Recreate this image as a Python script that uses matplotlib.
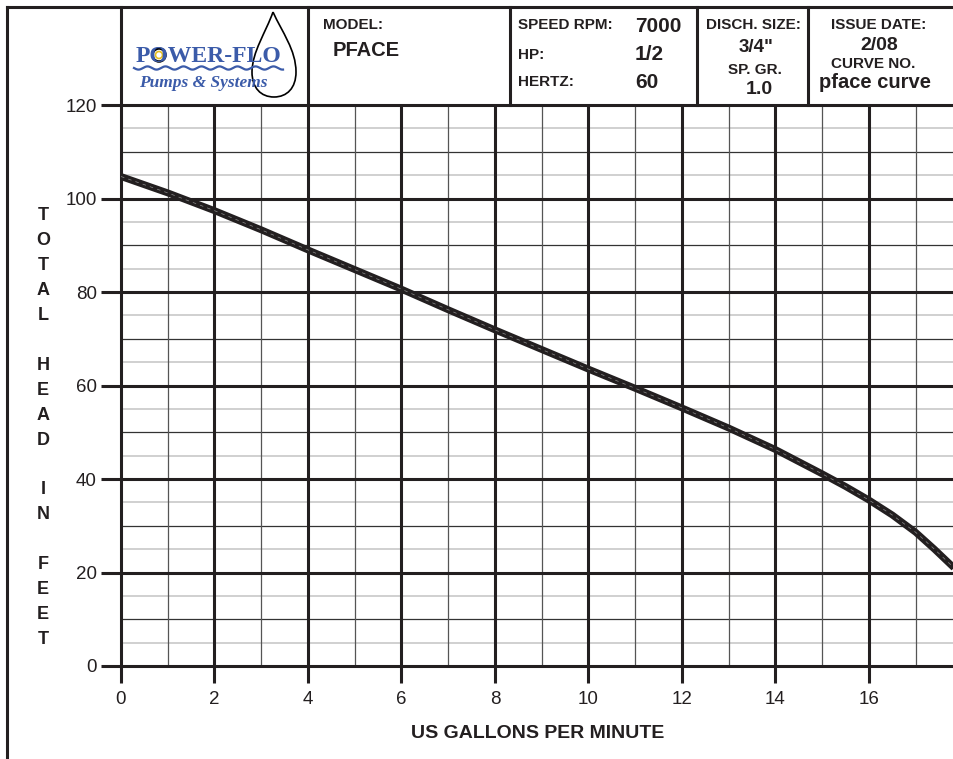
import numpy as np
import matplotlib.pyplot as plt
import matplotlib.patches as mpatches
from matplotlib.path import Path

plt.rcParams['font.family'] = ['Liberation Sans', 'DejaVu Sans']

# pump curve
gpm = [0, 1, 2, 3, 4, 5, 6, 7, 8, 9, 10, 11, 12, 13, 14, 15, 15.5, 16,
       16.5, 17, 17.4, 17.82]
head = [104.7, 101.2, 97.4, 93.3, 89.0, 84.8, 80.6, 76.2, 71.9, 67.7, 63.5,
        59.4, 55.2, 50.9, 46.3, 41.1, 38.4, 35.5, 32.3, 28.6, 25.0, 21.0]

x_ticks = [0, 2, 4, 6, 8, 10, 12, 14, 16]
y_ticks = [0, 20, 40, 60, 80, 100, 120]
x_minor = [1, 3, 5, 7, 9, 11, 13, 15, 17]
y_tens = [10, 30, 50, 70, 90, 110]
y_fives = [5, 15, 25, 35, 45, 55, 65, 75, 85, 95, 105, 115]

ylabel_letters = "TOTAL HEAD IN FEET"

# header fields: (text, x px, y px, align, size)
header = [
    ("MODEL:", 323, 25, 'left', 11),
    ("PFACE", 333, 50, 'left', 14.5),
    ("SPEED RPM:", 518, 25, 'left', 11),
    ("7000", 635, 26, 'left', 15),
    ("HP:", 518, 55, 'left', 11),
    ("1/2", 635, 55, 'left', 15),
    ("HERTZ:", 518, 82, 'left', 11),
    ("60", 635, 82, 'left', 15),
    ("DISCH. SIZE:", 753, 25, 'center', 11),
    ('3/4"', 756, 48, 'center', 13.5),
    ("SP. GR.", 755, 70, 'center', 11),
    ("1.0", 759, 90, 'center', 14),
    ("ISSUE DATE:", 879, 25, 'center', 11),
    ("2/08", 879, 45, 'center', 14),
    ("CURVE NO.", 873, 64, 'center', 11),
    ("pface curve", 875, 83, 'center', 14.5),
]

INK = '#231f20'
W, H = 954, 759

fig = plt.figure(figsize=(W / 100, H / 100), dpi=100)
fig.patch.set_facecolor('white')

ax = fig.add_axes([121 / W, 1 - 666 / H, (W - 121) / W, (666 - 105) / H])
ax.set_xlim(0, 17.82)
ax.set_ylim(0, 120)

# grid
for v in y_fives:
    ax.axhline(v, color='#c8c8c8', lw=1.2, zorder=1)
for v in y_tens:
    ax.axhline(v, color='#333333', lw=0.9, zorder=2)
for v in x_minor:
    ax.axvline(v, color='#555555', lw=0.9, zorder=2)
for v in y_ticks[1:-1]:
    ax.axhline(v, color=INK, lw=2.2, zorder=3)
for v in x_ticks[1:]:
    ax.axvline(v, color=INK, lw=2.2, zorder=3)

# curve
ax.plot(gpm, head, color=INK, lw=5, solid_capstyle='butt',
        solid_joinstyle='round', zorder=5)
ax.plot(gpm, head, color='#8a8a8a', lw=0.5, ls=(0, (5, 6)), zorder=6)

for side in ['left', 'bottom', 'top']:
    ax.spines[side].set_linewidth(2.2)
    ax.spines[side].set_color(INK)
ax.spines['right'].set_visible(False)

ax.set_xticks(x_ticks)
ax.set_yticks(y_ticks)
ax.tick_params(axis='x', length=12, width=2.2, color=INK, pad=6,
               labelsize=13.5, labelcolor=INK)
ax.tick_params(axis='y', length=14.5, width=2.2, color=INK, pad=3,
               labelsize=13.5, labelcolor=INK)
ax.set_xlabel("US GALLONS PER MINUTE", fontsize=14, fontweight='bold',
              color=INK, labelpad=12)

# overlay in pixel coordinates for header, border and y label
bg = fig.add_axes([0, 0, 1, 1], zorder=10)
bg.set_xlim(0, W)
bg.set_ylim(H, 0)
bg.axis('off')
bg.patch.set_alpha(0)

bg.plot([7, 7], [7, H], color=INK, lw=2.2, solid_capstyle='projecting')
bg.plot([7, W], [7, 7], color=INK, lw=2.2, solid_capstyle='projecting')
for xv in [121, 308, 510, 697, 808]:
    bg.plot([xv, xv], [7, 105], color=INK, lw=2.2)

for txt, x, y, ha, sz in header:
    bg.text(x, y, txt, ha=ha, va='center', fontsize=sz, fontweight='bold', color=INK)

# vertical stacked y label
y0, step = 216, 24.9
for i, ch in enumerate(ylabel_letters):
    if ch != " ":
        bg.text(43, y0 + i * step, ch, ha='center', va='center', fontsize=13,
                fontweight='bold', color=INK)

# logo
blue = '#3b5ba9'
bg.text(136, 56, "POWER-FLO", ha='left', va='center', fontsize=17,
        family='Liberation Serif', fontweight='bold', color=blue)
wx = np.linspace(134, 283, 300)
bg.plot(wx, 68 + 1.6 * np.sin((wx - 134) / 18 * 2 * np.pi), color=blue, lw=1.6)
bg.text(139, 83, "Pumps & Systems", ha='left', va='center', fontsize=12.5,
        family='Liberation Serif', fontweight='bold', style='italic', color=blue)
bg.add_patch(mpatches.Circle((159, 55), 6.5, fill=False, ec='black', lw=1.8))
bg.add_patch(mpatches.Circle((159, 55), 3.5, fill=False, ec='#e8c020', lw=1.2))

verts = [(273, 12), (282, 32), (296, 50), (296, 72),
         (296, 88), (287, 97), (274, 97),
         (261, 97), (252, 88), (252, 72),
         (252, 52), (266, 32), (273, 12)]
codes = [Path.MOVETO] + [Path.CURVE4] * 12
bg.add_patch(mpatches.PathPatch(Path(verts, codes), fill=False, ec='black', lw=1.2))

fig.savefig('out.png', dpi=100, facecolor='white')
